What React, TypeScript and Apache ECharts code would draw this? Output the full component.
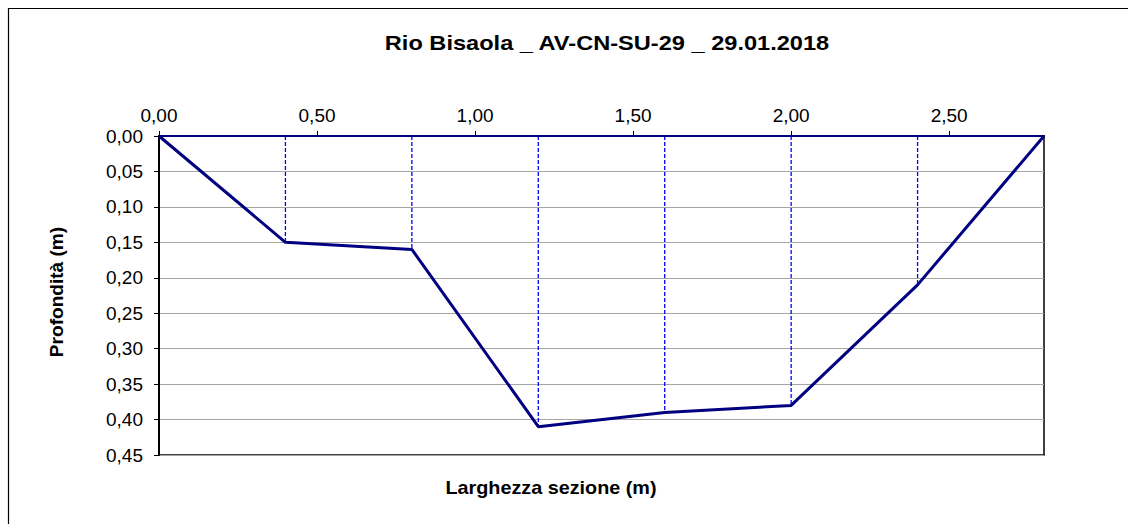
import React, { useEffect, useRef } from "react";
import * as echarts from "echarts";

const titleText = "Rio Bisaola _ AV-CN-SU-29 _ 29.01.2018";
const xAxisTitle = "Larghezza sezione (m)";
const yAxisTitle = "Profondità (m)";

// Verticals of the section: distance from the left bank (m) and measured depth (m)
const widths = [0, 0.4, 0.8, 1.2, 1.6, 2.0, 2.4, 2.8];
const depths = [0, 0.15, 0.16, 0.41, 0.39, 0.38, 0.21, 0];

const xMin = 0;
const xMax = 2.8;
const xStep = 0.5;
const yMin = 0;
const yMax = 0.45;
const yStep = 0.05;

const FONT = "'Liberation Sans', Arial, sans-serif";
const fmt = (v: number) => v.toFixed(2).replace(".", ",");

export default function App() {
  const ref = useRef<HTMLDivElement>(null);

  useEffect(() => {
    if (!ref.current) return;
    const chart = echarts.init(ref.current, undefined, { renderer: "svg" });

    const profile = widths.map((w, i) => [w, depths[i]]);
    const surface = [
      [widths[0], 0],
      [widths[widths.length - 1], 0],
    ];
    const verticals = widths
      .map((w, i) => ({ w, d: depths[i] }))
      .filter((p) => p.d > 0)
      .map((p, i) => ({
        type: "line",
        name: "v" + i,
        data: [
          [p.w, 0],
          [p.w, p.d],
        ],
        symbol: "none",
        silent: true,
        z: 1,
        color: "#0000ff",
        lineStyle: { color: "#0000ff", width: 1.3, type: [4, 2] },
      }));

    chart.setOption({
      animation: false,
      backgroundColor: "#ffffff",
      grid: {
        left: 159,
        top: 136,
        width: 885,
        height: 319,
        show: true,
        borderColor: "#000",
        borderWidth: 1.5,
        backgroundColor: "transparent",
      },
      xAxis: {
        type: "value",
        position: "top",
        min: xMin,
        max: xMax,
        interval: xStep,
        axisLine: { show: true, lineStyle: { color: "#000", width: 2 } },
        axisTick: { show: true, length: 5, lineStyle: { color: "#000", width: 1 } },
        axisLabel: {
          show: true,
          showMaxLabel: false,
          formatter: (v: number) => fmt(v),
          fontFamily: FONT,
          fontSize: 19,
          color: "#000",
          margin: 11,
        },
        splitLine: { show: false },
      },
      yAxis: {
        type: "value",
        inverse: true,
        min: yMin,
        max: yMax,
        interval: yStep,
        axisLine: { show: true, lineStyle: { color: "#000", width: 2 } },
        axisTick: { show: true, length: 5, lineStyle: { color: "#000", width: 1 } },
        axisLabel: {
          formatter: (v: number) => fmt(v),
          fontFamily: FONT,
          fontSize: 19,
          color: "#000",
          margin: 16,
        },
        splitLine: { show: true, lineStyle: { color: "#a6a6a6", width: 1 } },
      },
      series: [
        ...verticals,
        {
          type: "line",
          name: "surface",
          data: surface,
          symbol: "none",
          silent: true,
          z: 2,
          color: "#000080",
          lineStyle: { color: "#000080", width: 2 },
        },
        {
          type: "line",
          name: "profile",
          data: profile,
          symbol: "none",
          silent: true,
          z: 3,
          color: "#000080",
          lineStyle: { color: "#000080", width: 3 },
        },
      ],
      graphic: [
        {
          type: "line",
          silent: true,
          shape: { x1: 8.5, y1: 8, x2: 8.5, y2: 524 },
          style: { stroke: "#000", lineWidth: 1.2 },
        },
        {
          type: "line",
          silent: true,
          shape: { x1: 8, y1: 8.5, x2: 1128, y2: 8.5 },
          style: { stroke: "#000", lineWidth: 1.2 },
        },
        {
          type: "text",
          x: 607,
          y: 43,
          scaleX: 1.18,
          silent: true,
          style: {
            text: titleText,
            x: 0,
            y: 0,
            font: "bold 20px " + FONT,
            fill: "#000",
            textAlign: "center",
            textVerticalAlign: "middle",
            align: "center",
            verticalAlign: "middle",
          },
        },
        {
          type: "text",
          x: 551,
          y: 488,
          scaleX: 1.1,
          silent: true,
          style: {
            text: xAxisTitle,
            x: 0,
            y: 0,
            font: "bold 18px " + FONT,
            fill: "#000",
            textAlign: "center",
            textVerticalAlign: "middle",
            align: "center",
            verticalAlign: "middle",
          },
        },
        {
          type: "text",
          x: 57,
          y: 292,
          rotation: Math.PI / 2,
          scaleX: 1.06,
          silent: true,
          style: {
            text: yAxisTitle,
            x: 0,
            y: 0,
            font: "bold 18px " + FONT,
            fill: "#000",
            textAlign: "center",
            textVerticalAlign: "middle",
            align: "center",
            verticalAlign: "middle",
          },
        },
      ],
    });

    return () => chart.dispose();
  }, []);

  return (
    <div
      ref={ref}
      style={{ position: "fixed", left: 0, top: 0, width: 1128, height: 524 }}
    />
  );
}
